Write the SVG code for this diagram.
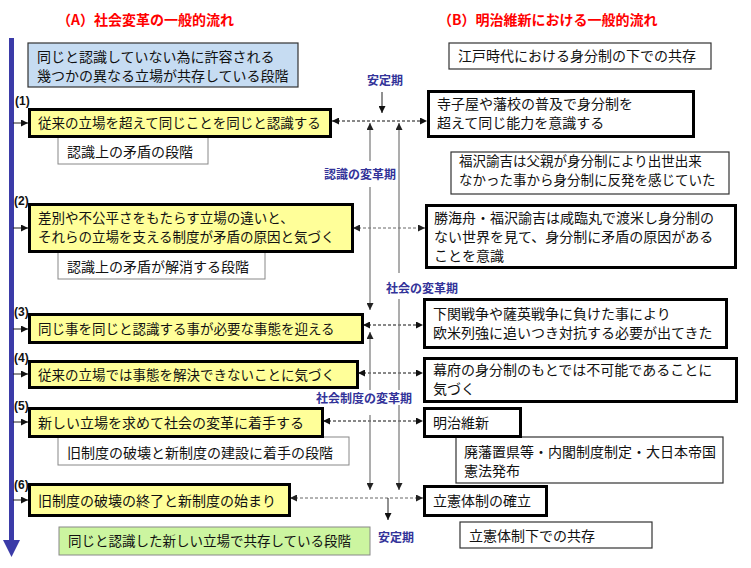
<svg xmlns="http://www.w3.org/2000/svg" width="751" height="568" viewBox="0 0 751 568">
<defs>
<marker id="ah" viewBox="0 0 10 10" refX="10" refY="5" markerWidth="7" markerHeight="7" markerUnits="userSpaceOnUse" orient="auto-start-reverse"><path d="M0,0 L10,5 L0,10 z" fill="#111"/></marker>
<marker id="ahg" viewBox="0 0 10 10" refX="10" refY="5" markerWidth="7" markerHeight="7" markerUnits="userSpaceOnUse" orient="auto-start-reverse"><path d="M0,0 L10,5 L0,10 z" fill="#222"/></marker>
</defs>
<style>
text{font-family:"Noto Sans CJK JP","Noto Sans CJK SC",sans-serif;fill:#111}
.t{font-size:13.5px}
.r{font-size:14px}
.title{font-size:14px;font-weight:bold;fill:#ff0000}
.num{font-family:"Liberation Sans",Arial,sans-serif;font-size:12px;font-weight:bold}
.per{font-size:12px;font-weight:bold;fill:#333399}
.yel{fill:#ffff99;stroke:#000;stroke-width:3}
.thick{fill:#fff;stroke:#000;stroke-width:3}
.thin{fill:#fff;stroke:#333;stroke-width:1.2}
.sub{fill:#fff;stroke:#888;stroke-width:1}
.blue{fill:#c6dcf2;stroke:#333;stroke-width:1.2}
.green{fill:#ccf5a0;stroke:#888;stroke-width:1}
.dash{fill:none;stroke:#111;stroke-width:1;stroke-dasharray:3,2}
.dashg{fill:none;stroke:#666;stroke-width:1;stroke-dasharray:3,2}
.vert{fill:none;stroke:#777;stroke-width:1.2}
.solid{fill:none;stroke:#222;stroke-width:1}
</style>
<rect width="751" height="568" fill="#fff"/>

<text class="title" x="57" y="25">（A）社会変革の一般的流れ</text>
<text class="title" x="438" y="25">（B）明治維新における一般的流れ</text>

<g id="timeline">
<rect x="9" y="38" width="5" height="503" fill="#3b3ba8"/>
<polygon points="3,540 20,540 11.5,557" fill="#3b3ba8"/>
</g>

<g id="connectors">
<path class="solid" d="M13,123 H28" marker-end="url(#ah)"/>
<path class="solid" d="M13,228 H28" marker-end="url(#ah)"/>
<path class="solid" d="M13,329 H28" marker-end="url(#ah)"/>
<path class="solid" d="M13,374 H28" marker-end="url(#ah)"/>
<path class="solid" d="M13,422 H28" marker-end="url(#ah)"/>
<path class="solid" d="M13,500 H28" marker-end="url(#ah)"/>

<path class="dash" d="M332,121 H427" marker-start="url(#ah)" marker-end="url(#ah)"/>
<path class="dashg" d="M353,228 H425" marker-start="url(#ahg)" marker-end="url(#ahg)"/>
<path class="dash" d="M363,325 H423" marker-start="url(#ah)" marker-end="url(#ah)"/>
<path class="dash" d="M358,373 H423" marker-start="url(#ah)" marker-end="url(#ah)"/>
<path class="dash" d="M323,421 H423" marker-start="url(#ah)" marker-end="url(#ah)"/>
<path class="dashg" d="M290,498 H423" marker-start="url(#ahg)" marker-end="url(#ahg)"/>

<path class="solid" d="M382,92 V113" marker-end="url(#ah)"/>
<path class="solid" d="M388,498 V520" marker-end="url(#ah)"/>

<path class="vert" d="M370,123 V161 M370,187 V310" marker-start="url(#ahg)" marker-end="url(#ahg)"/>
<path class="vert" d="M370,332 V390 M370,415 V490" marker-start="url(#ahg)" marker-end="url(#ahg)"/>
<path class="vert" d="M399,123 V273 M399,299 V390 M399,405 V490" marker-start="url(#ahg)" marker-end="url(#ahg)"/>
</g>

<g id="periods">
<text class="per" x="385" y="85" text-anchor="middle">安定期</text>
<text class="per" x="360" y="179" text-anchor="middle">認識の変革期</text>
<text class="per" x="422" y="293" text-anchor="middle">社会の変革期</text>
<text class="per" x="364" y="403" text-anchor="middle">社会制度の変革期</text>
<text class="per" x="396" y="542" text-anchor="middle">安定期</text>
</g>

<g id="a0"><rect class="blue" x="28" y="43" width="270" height="44"/>
<text class="r" x="37" y="62">同じと認識していない為に許容される<tspan x="37" y="81">幾つかの異なる立場が共存している段階</tspan></text></g>

<g id="sub1"><rect class="sub" x="58" y="137" width="150" height="27"/>
<text class="r" x="67" y="157">認識上の矛盾の段階</text></g>
<g id="a1"><text class="num" x="15" y="105">(1)</text>
<rect class="yel" x="29.5" y="109.5" width="301" height="27"/>
<text class="t" x="38" y="128">従来の立場を超えて同じことを同じと認識する</text></g>

<g id="sub2"><rect class="sub" x="58" y="252" width="207" height="27"/>
<text class="r" x="67" y="272">認識上の矛盾が解消する段階</text></g>
<g id="a2"><text class="num" x="14" y="205">(2)</text>
<rect class="yel" x="29.5" y="204.5" width="323" height="47"/>
<text class="t" x="38" y="223">差別や不公平さをもたらす立場の違いと、<tspan x="38" y="242">それらの立場を支える制度が矛盾の原因と気づく</tspan></text></g>

<g id="a3"><text class="num" x="14" y="316">(3)</text>
<rect class="yel" x="29.5" y="314.5" width="333" height="28"/>
<text class="t" x="38" y="334">同じ事を同じと認識する事が必要な事態を迎える</text></g>

<g id="a4"><text class="num" x="14" y="362">(4)</text>
<rect class="yel" x="29.5" y="361.5" width="328" height="26"/>
<text class="t" x="38" y="380">従来の立場では事態を解決できないことに気づく</text></g>

<g id="sub5"><rect class="sub" x="58" y="437" width="291" height="28"/>
<text class="r" x="67" y="458">旧制度の破壊と新制度の建設に着手の段階</text></g>
<g id="a5"><text class="num" x="14" y="410">(5)</text>
<rect class="yel" x="29.5" y="408.5" width="293" height="28"/>
<text class="r" x="38" y="428">新しい立場を求めて社会の変革に着手する</text></g>

<g id="a6"><text class="num" x="14" y="489">(6)</text>
<rect class="yel" x="29.5" y="484.5" width="260" height="31"/>
<text class="r" x="38" y="506">旧制度の破壊の終了と新制度の始まり</text></g>

<g id="a7"><rect class="green" x="59" y="527" width="311" height="28"/>
<text class="t" x="68" y="546">同じと認識した新しい立場で共存している段階</text></g>

<g id="b0"><rect class="thin" x="449" y="43" width="262" height="26"/>
<text class="r" x="458" y="61">江戸時代における身分制の下での共存</text></g>

<g id="b1"><rect class="thick" x="428.5" y="91.5" width="265" height="45"/>
<text class="r" x="437" y="109">寺子屋や藩校の普及で身分制を<tspan x="437" y="128">超えて同じ能力を意識する</tspan></text></g>

<g id="bnote"><rect class="thin" x="451" y="152" width="278" height="42"/>
<text class="t" x="459" y="166">福沢諭吉は父親が身分制により出世出来<tspan x="459" y="185">なかった事から身分制に反発を感じていた</tspan></text></g>

<g id="b2"><rect class="thick" x="426.5" y="205.5" width="309" height="62"/>
<text class="r" x="434" y="223">勝海舟・福沢諭吉は咸臨丸で渡米し身分制の<tspan x="434" y="242">ない世界を見て、身分制に矛盾の原因がある</tspan><tspan x="434" y="261">ことを意識</tspan></text></g>

<g id="b3"><rect class="thick" x="424.5" y="299.5" width="302" height="48"/>
<text class="r" x="433" y="319">下関戦争や薩英戦争に負けた事により<tspan x="433" y="338">欧米列強に追いつき対抗する必要が出てきた</tspan></text></g>

<g id="b4"><rect class="thick" x="424.5" y="358.5" width="312" height="43"/>
<text class="r" x="433" y="375">幕府の身分制のもとでは不可能であることに<tspan x="433" y="394">気づく</tspan></text></g>

<g id="b5sub"><rect class="thin" x="456" y="437" width="267" height="46"/>
<text class="r" x="464" y="457">廃藩置県等・内閣制度制定・大日本帝国<tspan x="464" y="476">憲法発布</tspan></text></g>

<g id="b5"><rect class="thick" x="424.5" y="408.5" width="96" height="28"/>
<text class="r" x="433" y="428">明治維新</text></g>

<g id="b6"><rect class="thick" x="424.5" y="486.5" width="122" height="29"/>
<text class="r" x="433" y="506">立憲体制の確立</text></g>

<g id="b7"><rect class="thin" x="460" y="522" width="192" height="26"/>
<text class="r" x="469" y="541">立憲体制下での共存</text></g>
</svg>
